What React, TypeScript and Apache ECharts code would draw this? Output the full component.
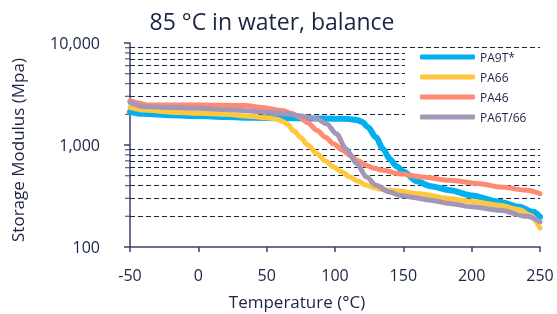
import React, { useEffect, useRef } from "react";
import * as echarts from "echarts";

const titleText = "85 °C in water, balance";
const xAxisName = "Temperature (°C)";
const yAxisName = "Storage Modulus (Mpa)";
const seriesNames = ["PA9T*", "PA66", "PA46", "PA6T/66"];
const seriesColors = ["#00B0F0", "#FFC83C", "#FF8A73", "#A496B6"];
const seriesWidths = [6, 5, 5, 5];
const xTicks = [-50, 0, 50, 100, 150, 200, 250];
const yTicks = [100, 1000, 10000];
const gridValues = [200, 300, 400, 500, 600, 700, 800, 900, 2000, 3000, 4000, 5000, 6000, 7000, 8000, 9000];

const pa9tTemp = [-50, -40, -20, 0, 20, 40, 60, 80, 100, 110, 116, 120, 124, 130, 135, 140, 145, 150, 160, 170, 184, 200, 220, 235, 245, 250];
const pa9tMod = [2120, 2020, 1960, 1920, 1880, 1850, 1830, 1820, 1810, 1800, 1760, 1680, 1500, 1190, 920, 730, 620, 550, 440, 395, 360, 320, 277, 248, 221, 198];

const pa66Temp = [-50, -40, -20, 0, 20, 40, 50, 57, 62, 65, 70, 75, 80, 87, 93, 99, 105, 111, 117, 123, 129, 135, 147, 160, 184, 200, 220, 235, 243, 250];
const pa66Mod = [2340, 2200, 2100, 2050, 2000, 1900, 1850, 1800, 1700, 1600, 1370, 1180, 1000, 820, 695, 608, 545, 485, 440, 403, 380, 365, 355, 335, 298, 280, 257, 232, 205, 153];

const pa46Temp = [-50, -45, -37, 0, 35, 45, 62, 68, 74, 80, 87, 93, 99, 105, 111, 117, 123, 129, 135, 148, 164, 184, 206, 221, 240, 250];
const pa46Mod = [2720, 2600, 2470, 2465, 2440, 2340, 2170, 2050, 1870, 1650, 1385, 1190, 1030, 900, 790, 700, 630, 590, 564, 520, 485, 450, 418, 387, 360, 334];

const pa6tTemp = [-50, -40, -20, 0, 20, 35, 50, 65, 74, 80, 87, 94, 101, 108, 116, 123, 130, 140, 148, 155, 170, 184, 200, 221, 240, 250];
const pa6tMod = [2620, 2390, 2330, 2290, 2230, 2170, 2100, 2020, 1940, 1880, 1800, 1610, 1290, 920, 655, 485, 403, 346, 320, 310, 288, 267, 248, 229, 200, 177];

const temps = [pa9tTemp, pa66Temp, pa46Temp, pa6tTemp];
const mods = [pa9tMod, pa66Mod, pa46Mod, pa6tMod];

const FONT = "Open Sans";
const TEXT = "#1B2445";
const AXIS = "#3A4166";

export default function App() {
  const ref = useRef<HTMLDivElement>(null);
  useEffect(() => {
    if (!ref.current) return;
    const chart = echarts.init(ref.current, null, { renderer: "svg" });
    const curveSeries = seriesNames.map((name, i) => ({
      name,
      type: "line",
      data: temps[i].map((t, j) => [t, mods[i][j]]),
      showSymbol: false,
      symbol: "none",
      smooth: 0.3,
      smoothMonotone: "x",
      z: 3 + i,
      lineStyle: { color: seriesColors[i], width: seriesWidths[i], cap: "round", join: "round" },
      itemStyle: { color: seriesColors[i] },
    }));
    chart.setOption({
      animation: false,
      textStyle: { fontFamily: FONT },
      grid: { left: 130, right: 17, top: 43, bottom: 67 },
      legend: {
        data: seriesNames,
        orient: "vertical",
        left: 405,
        top: 48,
        z: 20,
        padding: [3, 20, 6, 15],
        itemWidth: 55,
        itemHeight: 5,
        itemGap: 8,
        icon: "roundRect",
        backgroundColor: "#ffffff",
        textStyle: { fontSize: 12, color: TEXT, fontFamily: FONT, lineHeight: 12 },
      },
      xAxis: {
        type: "value",
        min: xTicks[0],
        max: xTicks[xTicks.length - 1],
        interval: 50,
        axisLine: { show: true, onZero: false, lineStyle: { color: AXIS, width: 1.5 } },
        axisTick: { show: true, length: 5, lineStyle: { color: AXIS, width: 1.5 } },
        axisLabel: { fontSize: 16, color: TEXT, margin: 20, fontFamily: FONT },
        splitLine: { show: false },
      },
      yAxis: {
        type: "log",
        logBase: 10,
        min: yTicks[0],
        max: yTicks[yTicks.length - 1],
        axisLine: { show: true, onZero: false, lineStyle: { color: AXIS, width: 1.5 } },
        axisTick: { show: true, length: 6, lineStyle: { color: AXIS, width: 1.5 } },
        axisLabel: {
          fontSize: 16,
          color: TEXT,
          margin: 30,
          fontFamily: FONT,
          formatter: (v: number) => Number(v).toLocaleString("en-US"),
        },
        splitLine: { show: false },
      },
      graphic: [
        {
          type: "text",
          x: 272,
          y: 21,
          style: { text: titleText, fontSize: 23, fill: TEXT, fontFamily: FONT, align: "center", verticalAlign: "middle" },
        },
        {
          type: "text",
          x: 297,
          y: 301,
          style: { text: xAxisName, fontSize: 17, fill: TEXT, fontFamily: FONT, align: "center", verticalAlign: "middle" },
        },
        {
          type: "text",
          x: 17,
          y: 150,
          rotation: Math.PI / 2,
          style: { text: yAxisName, fontSize: 17, fill: TEXT, fontFamily: FONT, align: "center", verticalAlign: "middle" },
        },
      ],
      series: [
        {
          name: "gridlines",
          type: "line",
          data: [],
          z: 1,
          markLine: {
            silent: true,
            z: 1,
            symbol: ["none", "none"],
            label: { show: false },
            lineStyle: { color: TEXT, type: [5, 3], width: 1.2 },
            data: gridValues.map((v) => ({ yAxis: v })),
          },
        },
        {
          name: "minorTicks",
          type: "scatter",
          data: gridValues.map((v) => [xTicks[0], v]),
          symbol: "rect",
          symbolSize: [5, 1.3],
          symbolOffset: [-2.5, 0],
          clip: false,
          silent: true,
          z: 2,
          itemStyle: { color: AXIS },
        },
        ...curveSeries,
      ],
    });
    return () => chart.dispose();
  }, []);
  return <div ref={ref} style={{ position: "fixed", left: 0, top: 0, width: 557, height: 314 }} />;
}
